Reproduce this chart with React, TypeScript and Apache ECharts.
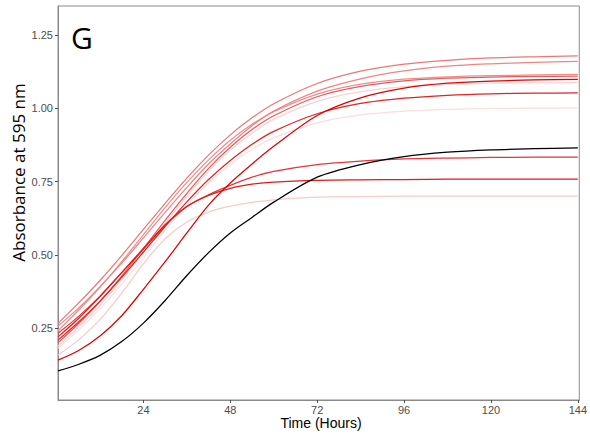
import React, { useEffect, useRef } from 'react';
import * as echarts from 'echarts';

const times = [0.4, 6, 12, 18, 24, 30, 36, 42, 48, 54, 60, 72, 84, 96, 108, 120, 132, 144];

const wellA = [0.267, 0.335, 0.413, 0.498, 0.587, 0.676, 0.762, 0.840, 0.909, 0.967, 1.015, 1.084, 1.126, 1.150, 1.163, 1.171, 1.175, 1.178];
const wellB = [0.258, 0.318, 0.392, 0.472, 0.558, 0.645, 0.730, 0.810, 0.878, 0.940, 0.990, 1.058, 1.100, 1.127, 1.143, 1.151, 1.156, 1.159];
const wellC = [0.242, 0.311, 0.390, 0.477, 0.569, 0.661, 0.747, 0.824, 0.891, 0.945, 0.988, 1.048, 1.082, 1.099, 1.107, 1.111, 1.113, 1.115];
const wellD = [0.201, 0.265, 0.341, 0.428, 0.522, 0.618, 0.710, 0.795, 0.867, 0.927, 0.974, 1.039, 1.074, 1.093, 1.102, 1.106, 1.108, 1.109];
const wellE = [0.142, 0.174, 0.224, 0.293, 0.383, 0.477, 0.575, 0.670, 0.745, 0.810, 0.870, 0.975, 1.035, 1.068, 1.085, 1.092, 1.096, 1.098];
const wellF = [0.190, 0.253, 0.328, 0.416, 0.510, 0.607, 0.700, 0.785, 0.857, 0.915, 0.962, 1.023, 1.056, 1.073, 1.081, 1.085, 1.086, 1.087];
const wellG = [0.210, 0.271, 0.343, 0.424, 0.510, 0.597, 0.681, 0.757, 0.822, 0.877, 0.921, 0.981, 1.016, 1.034, 1.044, 1.049, 1.051, 1.052];
const wellH = [0.182, 0.243, 0.317, 0.401, 0.491, 0.583, 0.669, 0.745, 0.809, 0.860, 0.899, 0.950, 0.977, 0.990, 0.996, 0.999, 1.000, 1.001];
const wellI = [0.233, 0.290, 0.360, 0.440, 0.520, 0.600, 0.665, 0.705, 0.737, 0.765, 0.785, 0.808, 0.820, 0.827, 0.830, 0.832, 0.833, 0.833];
const wellJ = [0.221, 0.283, 0.358, 0.440, 0.522, 0.603, 0.665, 0.703, 0.727, 0.741, 0.748, 0.754, 0.756, 0.757, 0.758, 0.758, 0.758, 0.758];
const wellK = [0.159, 0.210, 0.280, 0.370, 0.470, 0.555, 0.612, 0.646, 0.666, 0.679, 0.688, 0.697, 0.699, 0.700, 0.700, 0.700, 0.700, 0.700];
const control = [0.105, 0.127, 0.158, 0.205, 0.268, 0.345, 0.430, 0.508, 0.575, 0.628, 0.680, 0.765, 0.808, 0.835, 0.850, 0.858, 0.862, 0.865];

const redWells = [
  { name: 'F', values: wellF, color: '#f9d2d2' },
  { name: 'H', values: wellH, color: '#fbdede' },
  { name: 'K', values: wellK, color: '#f8caca' },
  { name: 'C', values: wellC, color: '#f08e8e' },
  { name: 'B', values: wellB, color: '#ee8585' },
  { name: 'A', values: wellA, color: '#ec7777' },
  { name: 'D', values: wellD, color: '#e55a5a' },
  { name: 'I', values: wellI, color: '#e43636' },
  { name: 'G', values: wellG, color: '#e32222' },
  { name: 'J', values: wellJ, color: '#e11a1a' },
  { name: 'E', values: wellE, color: '#e00000' },
];

const xTicks = [24, 48, 72, 96, 120, 144];
const yTicks = [0.25, 0.5, 0.75, 1.0, 1.25];

export default function App() {
  const ref = useRef<HTMLDivElement>(null);
  useEffect(() => {
    const chart = echarts.init(ref.current!, null, { renderer: 'svg' });
    const mk = (name: string, vals: number[], color: string) => ({
      type: 'line',
      name,
      data: times.map((t, i) => [t, vals[i]]),
      showSymbol: false,
      symbol: 'none',
      smooth: 0.3,
      silent: true,
      lineStyle: { color, width: 1.25 },
    });
    const series = [
      ...redWells.map((w) => mk(w.name, w.values, w.color)),
      mk('control', control, '#000000'),
    ];
    const tickFont = { color: '#4d4d4d', fontSize: 11, fontFamily: '"Liberation Sans", Arial, sans-serif' };
    chart.setOption({
      animation: false,
      grid: { left: 58, right: 7, top: 6, bottom: 37, show: true, borderColor: '#8a8a8a', borderWidth: 1, backgroundColor: 'transparent' },
      xAxis: {
        type: 'value',
        min: 0.4,
        max: 144.4,
        axisLine: { show: true, onZero: false, lineStyle: { color: '#8a8a8a', width: 1 } },
        splitLine: { show: false },
        axisTick: { show: true, length: 3, lineStyle: { color: '#4d4d4d' }, customValues: xTicks },
        axisLabel: { ...tickFont, margin: 4, customValues: xTicks },
      },
      yAxis: {
        type: 'value',
        min: 0.006,
        max: 1.348,
        axisLine: { show: true, onZero: false, lineStyle: { color: '#8a8a8a', width: 1 } },
        splitLine: { show: false },
        axisTick: { show: true, length: 3, lineStyle: { color: '#4d4d4d' }, customValues: yTicks },
        axisLabel: { ...tickFont, margin: 5, customValues: yTicks, formatter: (v: number) => v.toFixed(2) },
      },
      series,
      graphic: [
        {
          type: 'text',
          x: 71,
          y: 37.5,
          style: { text: 'G', fontSize: 30, fontFamily: '"Open Sans", sans-serif', fill: '#000', align: 'left', verticalAlign: 'middle' },
        },
        {
          type: 'text',
          x: 18.5,
          y: 172.5,
          rotation: Math.PI / 2,
          style: { text: 'Absorbance at 595 nm', fontSize: 17, fontFamily: '"Open Sans", sans-serif', fill: '#000', align: 'center', verticalAlign: 'middle' },
        },
        {
          type: 'text',
          x: 321,
          y: 423,
          style: { text: 'Time (Hours)', fontSize: 14, fontFamily: '"Liberation Sans", Arial, sans-serif', fill: '#000', align: 'center', verticalAlign: 'middle' },
        },
      ],
    });
    return () => chart.dispose();
  }, []);
  return <div ref={ref} style={{ position: 'absolute', left: 0, top: 0, width: 590, height: 437 }} />;
}
